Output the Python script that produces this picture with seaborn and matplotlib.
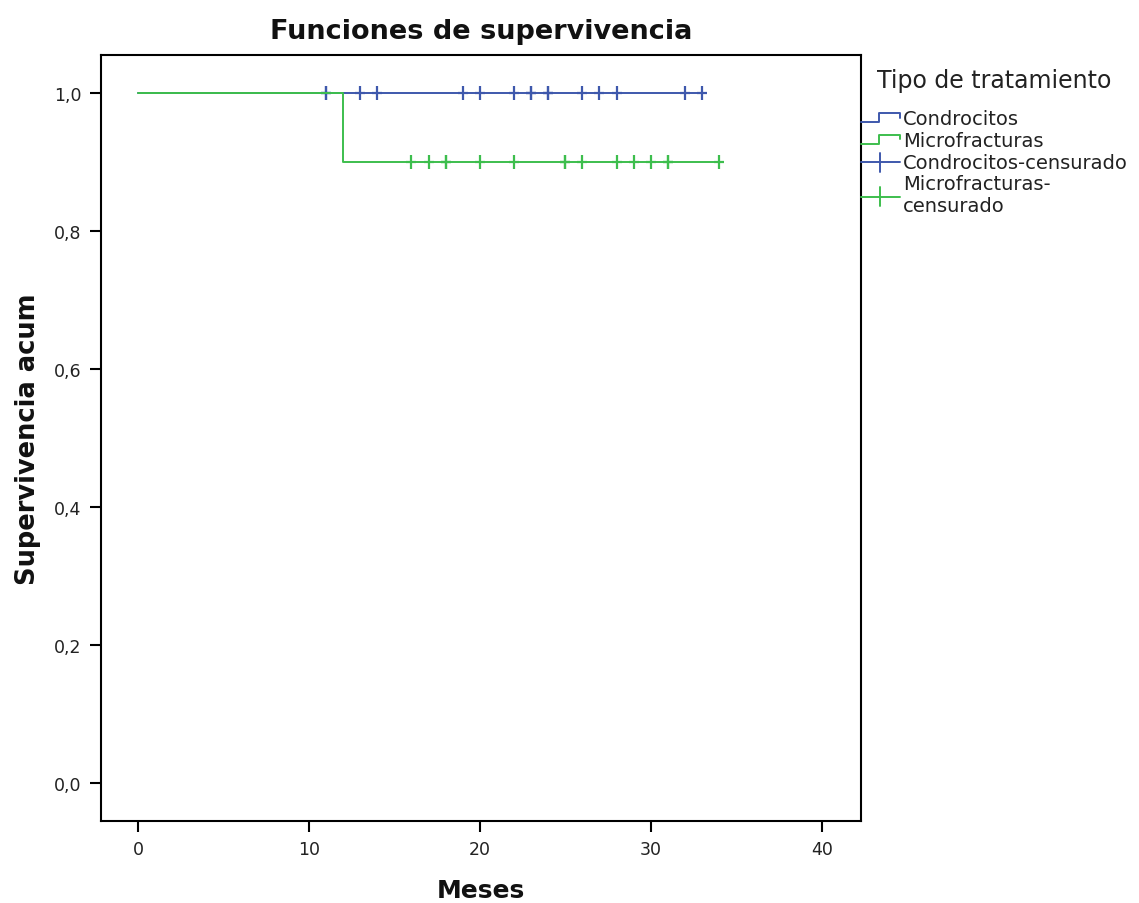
import numpy as np
import pandas as pd
import matplotlib
matplotlib.use("Agg")
import matplotlib.pyplot as plt
import seaborn as sns
from matplotlib.legend_handler import HandlerBase
from matplotlib.lines import Line2D
from matplotlib.ticker import FuncFormatter

# ---- data ----
groups = ["Condrocitos", "Microfracturas"]
colors = {"Condrocitos": "#3E58AC", "Microfracturas": "#3DBE4D"}
# step curves (time, cumulative survival)
condro_time = [0, 33]
condro_surv = [1.0, 1.0]
micro_time = [0, 12, 34]
micro_surv = [1.0, 0.9, 0.9]
# censored observations
condro_cens = [11, 11, 13, 14, 19, 20, 22, 23, 23, 24, 24, 26, 27, 28, 32, 33]
micro_cens = [16, 17, 18, 18, 20, 22, 25, 25, 26, 28, 29, 30, 31, 31, 34]
x_ticks = [0, 10, 20, 30, 40]
y_ticks = [0.0, 0.2, 0.4, 0.6, 0.8, 1.0]

curves = pd.DataFrame({
    "Meses": condro_time + micro_time,
    "Surv": condro_surv + micro_surv,
    "Grupo": ["Condrocitos"] * len(condro_time) + ["Microfracturas"] * len(micro_time),
})
cens = pd.DataFrame({
    "Meses": condro_cens + micro_cens,
    "Surv": [1.0] * len(condro_cens) + [0.9] * len(micro_cens),
    "Grupo": ["Condrocitos"] * len(condro_cens) + ["Microfracturas"] * len(micro_cens),
})

sns.set_theme(style="white")
plt.rcParams["font.family"] = ["DejaVu Sans"]

fig = plt.figure(figsize=(11.39, 9.04), dpi=100)
ax = fig.add_axes([101 / 1139, 1 - 822 / 904, (861 - 101) / 1139, (822 - 56) / 904])

for g in groups:
    sub = curves[curves["Grupo"] == g]
    sns.lineplot(data=sub, x="Meses", y="Surv", ax=ax, color=colors[g],
                 drawstyle="steps-post", linewidth=1.4, estimator=None,
                 sort=False, legend=False)
    csub = cens[cens["Grupo"] == g]
    sns.scatterplot(data=csub, x="Meses", y="Surv", ax=ax, color=colors[g],
                    marker="|", s=100, linewidth=1.6, legend=False)
    sns.scatterplot(data=csub, x="Meses", y="Surv", ax=ax, color=colors[g],
                    marker="_", s=60, linewidth=1.6, legend=False)

ax.set_xlim(-2.16, 42.3)
ax.set_ylim(-0.055, 1.055)
ax.set_xticks(x_ticks)
ax.set_yticks(y_ticks)
ax.yaxis.set_major_formatter(FuncFormatter(lambda v, p: f"{v:.1f}".replace(".", ",")))
ax.tick_params(axis="both", direction="out", length=8, width=1.5, color="black",
               labelsize=12.5, labelcolor="#222222", pad=6, bottom=True, left=True)
for s in ax.spines.values():
    s.set_color("black")
    s.set_linewidth(1.5)
ax.grid(False)

ax.set_xlabel("Meses", fontsize=18, fontweight="bold", labelpad=14, color="#111111")
ax.set_ylabel("Supervivencia acum", fontsize=18.5, fontweight="bold", labelpad=9, color="#111111")
ax.set_title("Funciones de supervivencia", fontsize=19.5, fontweight="bold", pad=12, color="#111111")


class StepHandler(HandlerBase):
    def create_artists(self, legend, orig_handle, xdescent, ydescent, width, height,
                       fontsize, trans):
        h = height
        xs = [0, width * 0.45, width * 0.45, width, width]
        ys = [h * 0.1, h * 0.1, h * 0.75, h * 0.75, h * 0.45]
        line = Line2D(np.array(xs) - xdescent, np.array(ys) - ydescent,
                      color=orig_handle.get_color(), linewidth=1.4, transform=trans)
        return [line]


class CrossHandler(HandlerBase):
    def create_artists(self, legend, orig_handle, xdescent, ydescent, width, height,
                       fontsize, trans):
        h = height
        c = orig_handle.get_color()
        l1 = Line2D(np.array([0, width]) - xdescent, np.array([h * 0.4, h * 0.4]) - ydescent,
                    color=c, linewidth=1.4, transform=trans)
        l2 = Line2D(np.array([width / 2, width / 2]) - xdescent,
                    np.array([-h * 0.3, h * 1.1]) - ydescent,
                    color=c, linewidth=1.4, transform=trans)
        return [l1, l2]


h1 = Line2D([], [], color=colors["Condrocitos"])
h2 = Line2D([], [], color=colors["Microfracturas"])
h3 = Line2D([], [], color=colors["Condrocitos"])
h4 = Line2D([], [], color=colors["Microfracturas"])
step_h = StepHandler()
cross_h = CrossHandler()
leg = ax.legend([h1, h2, h3, h4],
                ["Condrocitos", "Microfracturas", "Condrocitos-censurado", "Microfracturas-\ncensurado"],
                handler_map={h1: step_h, h2: step_h, h3: cross_h, h4: cross_h},
                title="Tipo de tratamiento", loc="upper left",
                bbox_to_anchor=(1.0, 0.983), frameon=False, fontsize=14,
                title_fontsize=17, handlelength=2.0, handletextpad=0.15,
                labelspacing=0.15, borderaxespad=0.0, borderpad=0.0)
leg._legend_box.sep = 12
leg.get_title().set_color("#222222")
for t in leg.get_texts():
    t.set_color("#222222")
    t.set_linespacing(1.15)

fig.savefig("out.png", dpi=100)
